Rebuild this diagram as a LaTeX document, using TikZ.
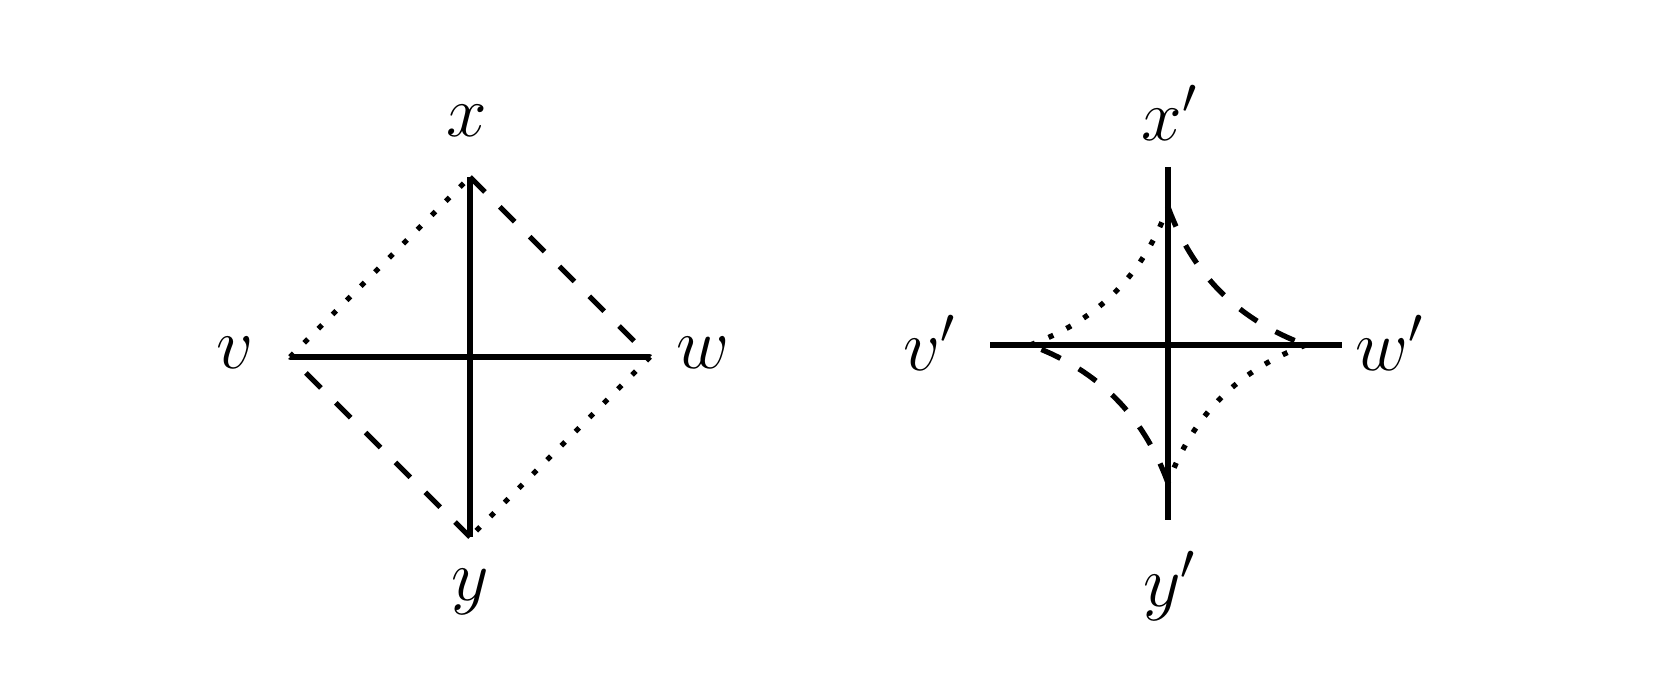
\documentclass[tikz,border=0pt]{standalone}
\usepackage{amsmath}
\usepackage{tikz}
\tikzstyle{solid_edge} =
  [ line width=1.5pt
  ]
\tikzstyle{dashed_edge} =
  [ line width=1.5pt
  , dash pattern=on 6pt off 6pt
  ]
\tikzstyle{dotted_edge} =
  [ line width=1.5pt
  , dash pattern=on 1.5pt off 4.2pt
  ]
\tikzstyle{vertex_label} =
  [ font=\huge
  , inner sep=0pt
  ]
\begin{document}
\begin{tikzpicture}
    \useasboundingbox (0,0) rectangle (16.78,6.90);

    % left picture
    \coordinate (x) at (4.70, 5.13);
    \coordinate (y) at (4.70, 1.53);
    \coordinate (v) at (2.90, 3.33);
    \coordinate (w) at (6.50, 3.33);

    \node[vertex_label] (x_label) at (4.67, 5.69) {$x$};
    \node[vertex_label] (y_label) at (4.70, 0.98) {$y$};
    \node[vertex_label] (v_label) at (2.35, 3.37) {$v$};
    \node[vertex_label] (w_label) at (7.03, 3.37) {$w$};

    \draw[solid_edge]  (x) -- (y);
    \draw[solid_edge]  (v) -- (w);
    \draw[dotted_edge] (v) -- (x);
    \draw[dashed_edge] (x) -- (w);
    \draw[dotted_edge] (w) -- (y);
    \draw[dashed_edge] (y) -- (v);

    % right picture
    \coordinate (xp_end) at (11.68, 5.23);
    \coordinate (yp_end) at (11.68, 1.70);
    \coordinate (vp_end) at ( 9.90, 3.45);
    \coordinate (wp_end) at (13.42, 3.45);
    \coordinate (xp)     at (11.68, 4.83);
    \coordinate (yp)     at (11.68, 2.07);
    \coordinate (vp)     at (10.30, 3.45);
    \coordinate (wp)     at (13.06, 3.45);

    \node[vertex_label] (xp_label) at (11.70, 5.77) {$x'$};
    \node[vertex_label] (yp_label) at (11.70, 1.04) {$y'$};
    \node[vertex_label] (vp_label) at ( 9.30, 3.47) {$v'$};
    \node[vertex_label] (wp_label) at (13.90, 3.47) {$w'$};

    \draw[solid_edge]  (xp_end) -- (yp_end);
    \draw[solid_edge]  (vp_end) -- (wp_end);
    \draw[dotted_edge] (vp) .. controls +( 0.68, 0.25) and +(-0.25,-0.68) .. (xp);
    \draw[dashed_edge] (xp) .. controls +( 0.25,-0.68) and +(-0.68, 0.25) .. (wp);
    \draw[dotted_edge] (wp) .. controls +(-0.68,-0.25) and +( 0.25, 0.68) .. (yp);
    \draw[dashed_edge] (yp) .. controls +(-0.25, 0.68) and +( 0.68,-0.25) .. (vp);
\end{tikzpicture}
\end{document}
